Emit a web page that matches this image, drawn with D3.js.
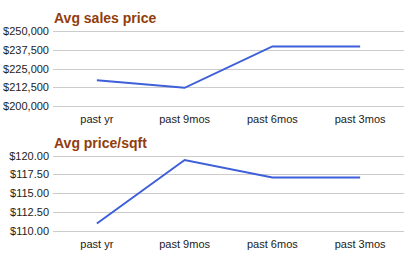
<!DOCTYPE html>
<html>
<head>
<meta charset="utf-8">
<script src="https://cdn.jsdelivr.net/npm/d3@7"></script>
<style>
  body { margin: 0; background: #fff; }
  svg { display: block; font-family: "Liberation Sans", Arial, sans-serif; }
</style>
</head>
<body>
<svg id="chart" width="416" height="258"></svg>
<script>
const periods = ["past yr", "past 9mos", "past 6mos", "past 3mos"];
const salesPrice = [217200, 212100, 239700, 239700];
const pricePerSqft = [111.0, 119.4, 117.1, 117.1];
const salesTicks = [200000, 212500, 225000, 237500, 250000];
const sqftTicks = [110, 112.5, 115, 117.5, 120];

const svg = d3.select("#chart");
const plotLeft = 53, plotRight = 404;

function drawPanel(cfg) {
  const g = svg.append("g");

  const x = d3.scalePoint()
    .domain(periods)
    .range([plotLeft, plotRight])
    .padding(0.5);

  const y = d3.scaleLinear()
    .domain([cfg.ticks[0], cfg.ticks[cfg.ticks.length - 1]])
    .range([cfg.bottom, cfg.top]);

  g.append("text")
    .attr("x", 54)
    .attr("y", cfg.top - 8)
    .attr("font-size", 14)
    .attr("font-weight", "bold")
    .attr("fill", "#913d0c")
    .text(cfg.title);

  g.append("g")
    .selectAll("line")
    .data(cfg.ticks)
    .join("line")
    .attr("x1", plotLeft)
    .attr("x2", plotRight)
    .attr("y1", d => Math.round(y(d)) + 0.5)
    .attr("y2", d => Math.round(y(d)) + 0.5)
    .attr("stroke", "#cccccc")
    .attr("stroke-width", 1);

  g.append("g")
    .selectAll("text")
    .data(cfg.ticks)
    .join("text")
    .attr("x", 49)
    .attr("y", d => y(d) + 4)
    .attr("text-anchor", "end")
    .attr("font-size", 11)
    .attr("fill", "#222")
    .text(cfg.fmt);

  g.append("g")
    .selectAll("text")
    .data(periods)
    .join("text")
    .attr("x", d => x(d))
    .attr("y", cfg.bottom + 17)
    .attr("text-anchor", "middle")
    .attr("font-size", 11)
    .attr("fill", "#222")
    .text(d => d);

  const line = d3.line()
    .x((d, i) => x(periods[i]))
    .y(d => y(d));

  g.append("path")
    .datum(cfg.values)
    .attr("fill", "none")
    .attr("stroke", "#3d5fd9")
    .attr("stroke-width", 2)
    .attr("d", line);
}

drawPanel({
  title: "Avg sales price",
  values: salesPrice,
  ticks: salesTicks,
  top: 31,
  bottom: 106,
  fmt: d => "$" + d3.format(",")(d)
});

drawPanel({
  title: "Avg price/sqft",
  values: pricePerSqft,
  ticks: sqftTicks,
  top: 155.5,
  bottom: 231,
  fmt: d => "$" + d3.format(".2f")(d)
});
</script>
</body>
</html>
